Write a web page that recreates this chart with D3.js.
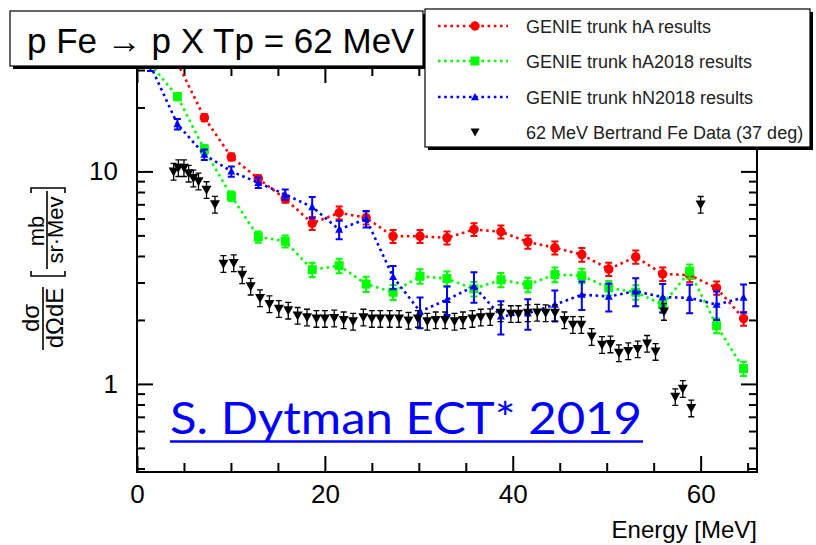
<!DOCTYPE html>
<html>
<head>
<meta charset="utf-8">
<script src="https://cdn.jsdelivr.net/npm/d3@7"></script>
<style>
  body { margin: 0; background: #fff; }
  svg { display: block; }
  text { font-family: "Liberation Sans", Arial, Helvetica, sans-serif; }
</style>
</head>
<body>
<svg id="chart" width="816" height="545"></svg>
<script>
// Bin centres of the GENIE histograms (MeV)
const binCenters = [1.43, 4.30, 7.17, 10.04, 12.91, 15.78, 18.65, 21.52, 24.39, 27.26, 30.13, 33.00,
                    35.87, 38.74, 41.61, 44.48, 47.35, 50.22, 53.09, 55.96, 58.83, 61.70, 64.57];

// GENIE trunk hA
const hAValues = [55, 32.5, 17.9, 11.7, 9.24, 7.43, 5.7, 6.39, 6.05, 4.95, 4.95, 4.87,
                  5.33, 5.2, 4.66, 4.37, 4.06, 3.47, 3.96, 3.29, 3.25, 2.83, 2.03];
const hAErrors = [2.5, 1.4, 0.7, 0.45, 0.35, 0.3, 0.4, 0.45, 0.42, 0.35, 0.35, 0.34,
                  0.37, 0.36, 0.33, 0.31, 0.3, 0.25, 0.28, 0.24, 0.24, 0.2, 0.15];

// GENIE trunk hA2018
const hA2018Values = [32, 22.5, 12.7, 7.65, 4.92, 4.69, 3.45, 3.6, 2.95, 2.70, 3.21, 3.13,
                      2.80, 3.09, 2.93, 3.27, 3.23, 2.83, 2.70, 2.36, 3.39, 1.88, 1.18];
const hA2018Errors = [1.3, 0.9, 0.6, 0.4, 0.3, 0.3, 0.27, 0.28, 0.24, 0.22, 0.25, 0.25,
                      0.22, 0.24, 0.23, 0.26, 0.25, 0.22, 0.21, 0.19, 0.26, 0.15, 0.09];

// GENIE trunk hN2018
const hN2018Values = [31.5, 16.7, 12.0, 10.0, 8.85, 7.79, 6.8, 5.33, 5.98, 3.19, 2.19, 2.49,
                      2.88, 2.08, 2.15, 2.36, 2.63, 2.58, 2.73, 2.56, 2.54, 2.36, 2.55];
const hN2018Errors = [1.8, 0.94, 0.67, 0.56, 0.5, 0.44, 0.78, 0.53, 0.54, 0.4, 0.36, 0.38,
                      0.47, 0.37, 0.35, 0.39, 0.40, 0.39, 0.41, 0.39, 0.39, 0.36, 0.39];

// 62 MeV Bertrand Fe data at 37 degrees
const dataEnergy = [3.9, 4.4, 5.0, 5.5, 6.0, 6.55, 7.4, 8.3, 9.2, 10.3, 11.2, 12.1, 13.1, 14.1, 15.1,
                    16.1, 17.1, 18.1, 19.1, 20.0, 21.0, 22.0, 23.0, 24.1, 25.0, 25.9, 26.9, 27.9,
                    28.9, 29.9, 30.9, 31.8, 32.8, 33.8, 34.7, 35.7, 36.6, 37.6, 38.7, 39.8, 40.6,
                    41.6, 42.6, 43.5, 44.5, 45.5, 46.4, 47.3, 48.4, 49.5, 50.4, 51.3, 52.3, 53.3,
                    54.3, 55.2, 56.1, 57.3, 58.1, 59.0, 60.0];
const dataValues = [10.0, 10.4, 10.4, 9.8, 9.3, 9.0, 8.2, 7.0, 3.68, 3.71, 3.26, 2.88, 2.54, 2.38, 2.26,
                    2.22, 2.10, 2.06, 2.03, 2.03, 2.04, 2.0, 1.97, 2.06, 2.03, 2.03, 2.03, 2.03,
                    1.99, 2.03, 1.97, 2.0, 2.0, 1.97, 2.0, 2.03, 2.06, 2.07, 2.16, 2.14, 2.14,
                    2.16, 2.17, 2.16, 2.16, 2.0, 1.90, 1.90, 1.67, 1.53, 1.54, 1.40, 1.43, 1.46,
                    1.55, 1.42, 2.19, 0.87, 0.95, 0.77, 6.99];
const dataRelError = 0.09;

// Axes
const xMajorTicks = [0, 20, 40, 60];
const xMinorTicks = [5, 10, 15, 25, 30, 35, 45, 50, 55, 65];
const yMajorTicks = [1, 10];
const yMinorTicks = [0.4, 0.5, 0.6, 0.7, 0.8, 0.9, 2, 3, 4, 5, 6, 7, 8, 9, 20, 30];

const legendLabels = ["GENIE trunk hA results", "GENIE trunk hA2018 results",
                      "GENIE trunk hN2018 results", "62 MeV Bertrand Fe Data (37 deg)"];

const frame = { left: 137, right: 757, top: 67, bottom: 472 };

const svg = d3.select("#chart");
const x = d3.scaleLinear().domain([0, 66]).range([frame.left, frame.right]);
const y = d3.scaleLog().domain([0.385, 31]).range([frame.bottom, frame.top]);

svg.append("defs").append("clipPath").attr("id", "frameClip")
  .append("rect")
  .attr("x", frame.left).attr("y", frame.top)
  .attr("width", frame.right - frame.left).attr("height", frame.bottom - frame.top);

// ---- axes with inward ticks on all four sides ----
function styleAxis(g) {
  g.select(".domain").remove();
  g.selectAll(".tick line").attr("stroke", "#000").attr("stroke-width", 2);
  g.selectAll("text").attr("fill", "#000").attr("font-size", 26);
}

svg.append("g").attr("transform", `translate(0,${frame.bottom})`)
  .call(d3.axisBottom(x).tickValues(xMajorTicks).tickSizeInner(-16).tickSizeOuter(0)
        .tickPadding(13).tickFormat(d3.format("d")))
  .call(styleAxis);
svg.append("g").attr("transform", `translate(0,${frame.bottom})`)
  .call(d3.axisBottom(x).tickValues(xMinorTicks).tickSizeInner(-9).tickSizeOuter(0).tickFormat(""))
  .call(styleAxis);
svg.append("g").attr("transform", `translate(0,${frame.top})`)
  .call(d3.axisTop(x).tickValues(xMajorTicks).tickSizeInner(-16).tickSizeOuter(0).tickFormat(""))
  .call(styleAxis);
svg.append("g").attr("transform", `translate(0,${frame.top})`)
  .call(d3.axisTop(x).tickValues(xMinorTicks).tickSizeInner(-9).tickSizeOuter(0).tickFormat(""))
  .call(styleAxis);

svg.append("g").attr("transform", `translate(${frame.left},0)`)
  .call(d3.axisLeft(y).tickValues(yMajorTicks).tickSizeInner(-16).tickSizeOuter(0)
        .tickPadding(19).tickFormat(d3.format("d")))
  .call(styleAxis);
svg.append("g").attr("transform", `translate(${frame.left},0)`)
  .call(d3.axisLeft(y).tickValues(yMinorTicks).tickSizeInner(-8).tickSizeOuter(0).tickFormat(""))
  .call(styleAxis);
svg.append("g").attr("transform", `translate(${frame.right},0)`)
  .call(d3.axisRight(y).tickValues(yMajorTicks).tickSizeInner(-16).tickSizeOuter(0).tickFormat(""))
  .call(styleAxis);
svg.append("g").attr("transform", `translate(${frame.right},0)`)
  .call(d3.axisRight(y).tickValues(yMinorTicks).tickSizeInner(-8).tickSizeOuter(0).tickFormat(""))
  .call(styleAxis);

svg.append("rect")
  .attr("x", frame.left).attr("y", frame.top)
  .attr("width", frame.right - frame.left).attr("height", frame.bottom - frame.top)
  .attr("fill", "none").attr("stroke", "#000").attr("stroke-width", 2);

// ---- markers ----
function markerPath(shape, size) {
  const s = size / 2;
  if (shape === "circle") return d3.symbol(d3.symbolCircle, Math.PI * s * s)();
  if (shape === "square") return `M${-s},${-s}H${s}V${s}H${-s}Z`;
  if (shape === "triUp") return `M0,${-s}L${s},${s * 0.8}L${-s},${s * 0.8}Z`;
  if (shape === "triDown") return `M0,${s}L${s},${-s * 0.8}L${-s},${-s * 0.8}Z`;
}

const plot = svg.append("g").attr("clip-path", "url(#frameClip)");

const series = [
  { values: hAValues, errors: hAErrors, color: "#ff0000", shape: "circle", size: 9.5 },
  { values: hA2018Values, errors: hA2018Errors, color: "#00ff00", shape: "square", size: 9 },
  { values: hN2018Values, errors: hN2018Errors, color: "#0000ff", shape: "triUp", size: 8 }
];

const line = d3.line().x(d => x(d.e)).y(d => y(d.v));

function drawErrors(g, pts, color, cap, width) {
  g.selectAll(null).data(pts).join("path")
    .attr("d", d => {
      const x0 = x(d.e), y1 = y(d.v - d.err), y2 = y(d.v + d.err);
      return `M${x0},${y1}V${y2}M${x0 - cap},${y1}H${x0 + cap}M${x0 - cap},${y2}H${x0 + cap}`;
    })
    .attr("stroke", color).attr("stroke-width", width).attr("fill", "none");
}

series.forEach(s => {
  const pts = binCenters.map((e, i) => ({ e, v: s.values[i], err: s.errors[i] }));
  plot.append("path").datum(pts)
    .attr("d", line).attr("fill", "none")
    .attr("stroke", s.color).attr("stroke-width", 2.6)
    .attr("stroke-dasharray", "2.6,3.6");
  const g = plot.append("g");
  drawErrors(g, pts, s.color, 3.5, 2);
  g.selectAll(null).data(pts).join("path")
    .attr("transform", d => `translate(${x(d.e)},${y(d.v)})`)
    .attr("d", markerPath(s.shape, s.size))
    .attr("fill", s.color);
});

// data points
const dataPts = dataEnergy.map((e, i) => ({ e, v: dataValues[i], err: dataValues[i] * dataRelError }));
const dg = plot.append("g");
drawErrors(dg, dataPts, "#000", 3, 1.3);
dg.selectAll(null).data(dataPts).join("path")
  .attr("transform", d => `translate(${x(d.e)},${y(d.v)})`)
  .attr("d", markerPath("triDown", 10))
  .attr("fill", "#000");

// ---- y-axis title: dσ/dΩdE [mb/(sr·Mev)] ----
const yt = svg.append("g").attr("transform", "rotate(-90)");
yt.append("text").attr("x", -318).attr("y", 39).attr("text-anchor", "middle")
  .attr("font-size", 24).text("dσ");
yt.append("line").attr("x1", -350).attr("x2", -287).attr("y1", 43).attr("y2", 43)
  .attr("stroke", "#000").attr("stroke-width", 1.6);
yt.append("text").attr("x", -318).attr("y", 63).attr("text-anchor", "middle")
  .attr("font-size", 24).text("dΩdE");
yt.append("path").attr("d", "M-271,31H-276V65H-271").attr("fill", "none")
  .attr("stroke", "#000").attr("stroke-width", 1.6);
yt.append("text").attr("x", -231).attr("y", 44).attr("text-anchor", "middle")
  .attr("font-size", 22).text("mb");
yt.append("line").attr("x1", -269).attr("x2", -191).attr("y1", 47).attr("y2", 47)
  .attr("stroke", "#000").attr("stroke-width", 1.6);
yt.append("text").attr("x", -230).attr("y", 63).attr("text-anchor", "middle")
  .attr("font-size", 22).text("sr·Mev");
yt.append("path").attr("d", "M-193,31H-188V65H-193").attr("fill", "none")
  .attr("stroke", "#000").attr("stroke-width", 1.6);

// x-axis title
svg.append("text").attr("x", frame.right).attr("y", 538).attr("text-anchor", "end")
  .attr("font-size", 24).text("Energy [MeV]");

// ---- annotation ----
svg.append("text").attr("x", 170).attr("y", 434)
  .style("font-family", "Lato, 'Open Sans', sans-serif").style("font-weight", 400)
  .attr("font-size", 45)
  .attr("fill", "#0000ff").attr("textLength", 472).attr("lengthAdjust", "spacingAndGlyphs")
  .text("S. Dytman ECT* 2019");
svg.append("line").attr("x1", 170).attr("x2", 643).attr("y1", 441.5).attr("y2", 441.5)
  .attr("stroke", "#0000ff").attr("stroke-width", 2.5);

// ---- title box ----
function paveBox(x0, y0, w, h) {
  svg.append("rect").attr("x", x0 + 3).attr("y", y0 + 3).attr("width", w).attr("height", h).attr("fill", "#000");
  svg.append("rect").attr("x", x0).attr("y", y0).attr("width", w).attr("height", h)
    .attr("fill", "#fff").attr("stroke", "#000").attr("stroke-width", 1.2);
}
paveBox(10, 11, 413, 55);
svg.append("text").attr("x", 27).attr("y", 53).attr("font-size", 35).text("p Fe → p X Tp = 62 MeV");

// ---- legend ----
paveBox(425, 9, 385, 138);
const legendRows = [
  { color: "#ff0000", shape: "circle", size: 9.5, line: true },
  { color: "#00ff00", shape: "square", size: 9, line: true },
  { color: "#0000ff", shape: "triUp", size: 8, line: true },
  { color: "#000", shape: "triDown", size: 9, line: false }
];
const legY = [26, 61, 97, 132];
legendRows.forEach((r, i) => {
  const g = svg.append("g").attr("transform", `translate(0,${legY[i]})`);
  if (r.line) {
    g.append("line").attr("x1", 438).attr("x2", 508).attr("y1", 0).attr("y2", 0)
      .attr("stroke", r.color).attr("stroke-width", 2.6).attr("stroke-dasharray", "2.6,3.6");
  }
  g.append("path").attr("transform", "translate(475,0)").attr("d", markerPath(r.shape, r.size))
    .attr("fill", r.color);
  g.append("text").attr("x", 526).attr("y", 6.5).attr("font-size", 18).attr("fill", "#222")
    .text(legendLabels[i]);
});
</script>
</body>
</html>
